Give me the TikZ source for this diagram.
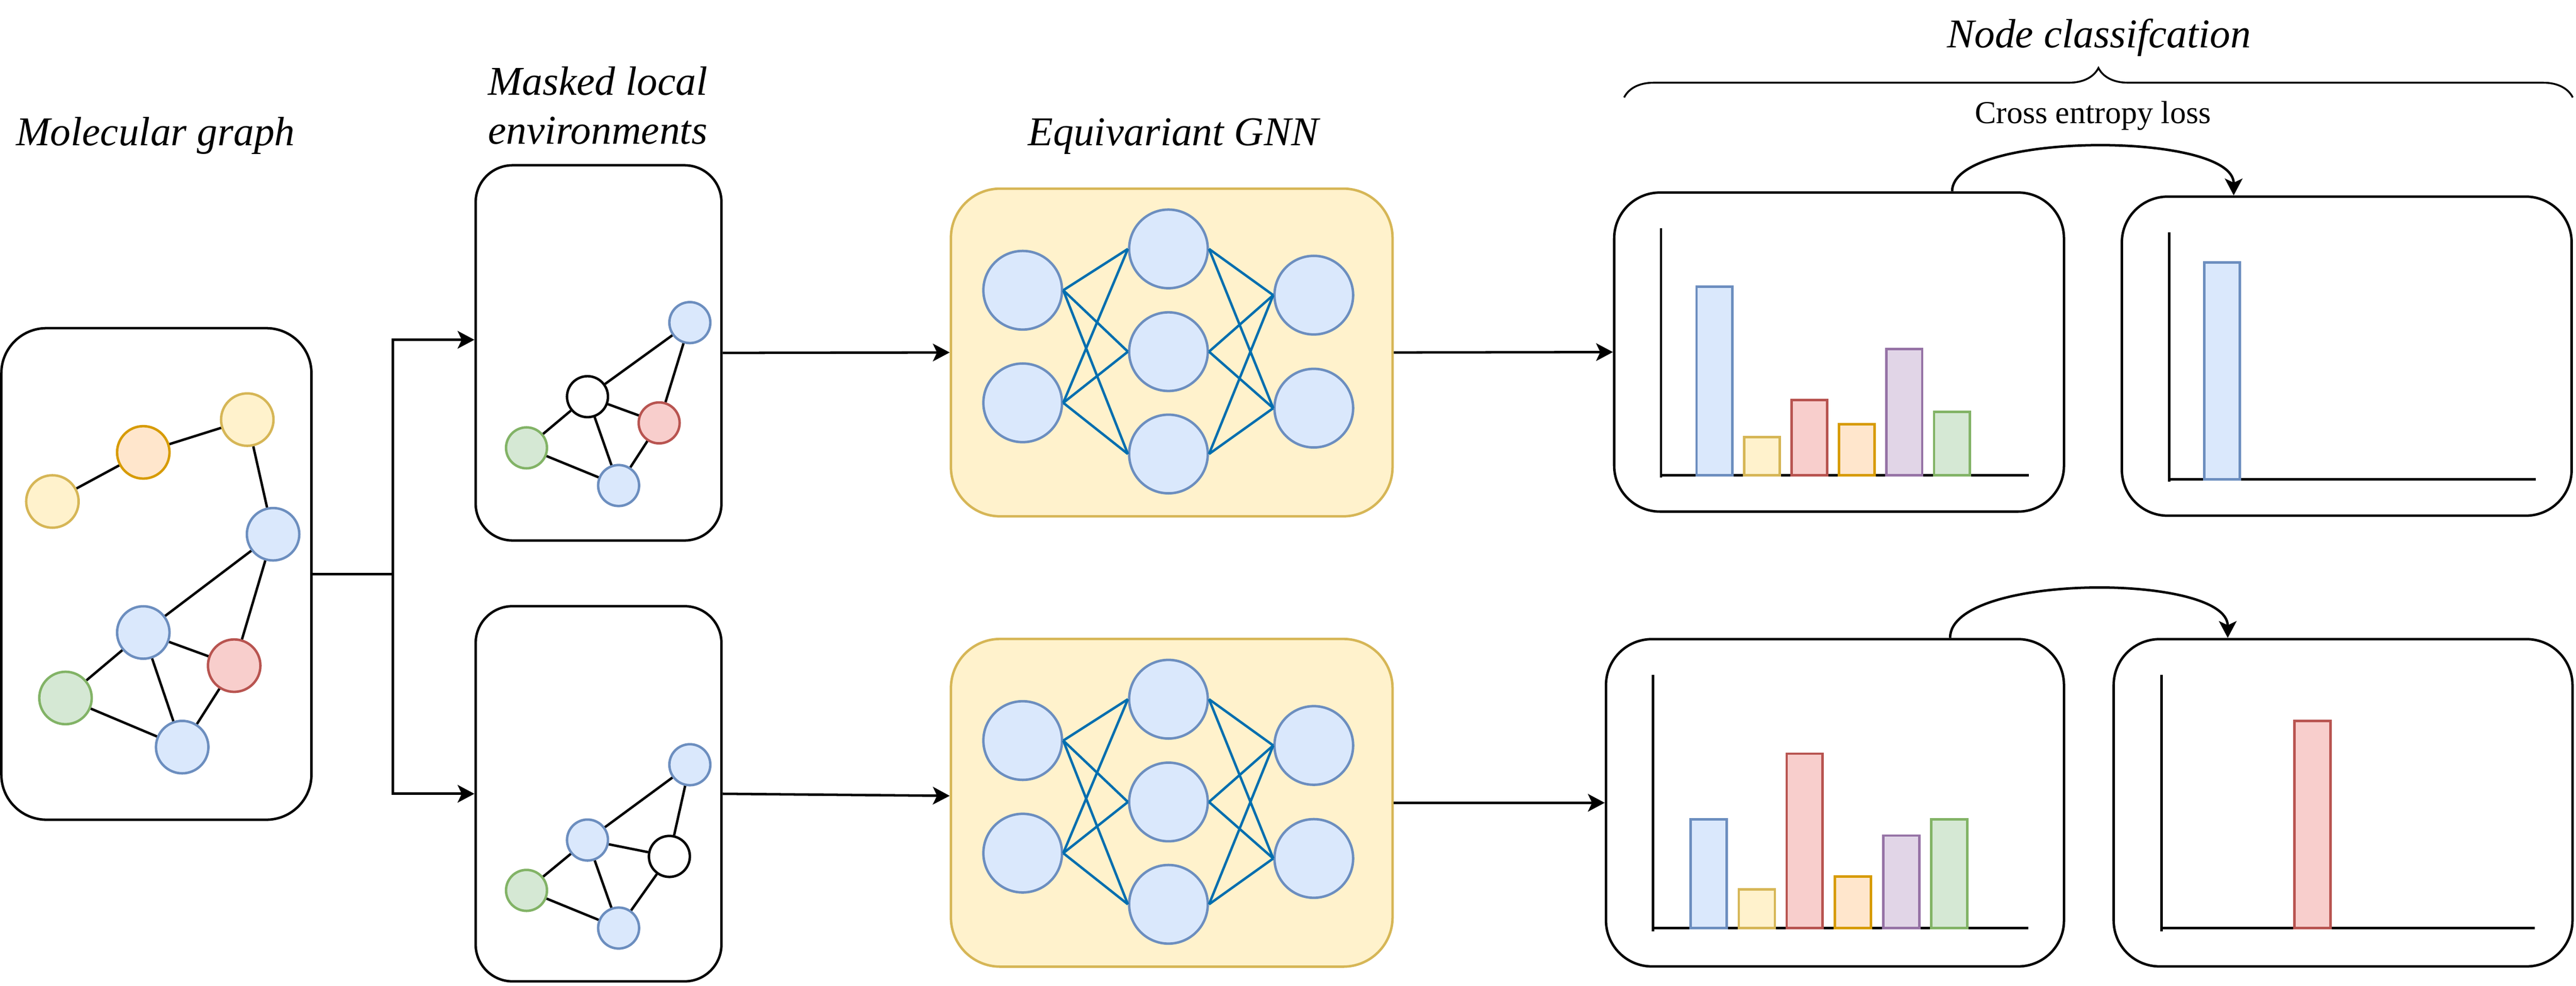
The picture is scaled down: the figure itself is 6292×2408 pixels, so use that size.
\documentclass[tikz,border=0pt]{standalone}
\usepackage{xcolor}
\usepackage{fontspec}
\setmainfont{Liberation Serif}
\usepackage{tikz}
\usetikzlibrary{arrows.meta, positioning, calc, decorations.pathreplacing}

\definecolor{bluefill}{HTML}{DAE8FC}
\definecolor{blueline}{HTML}{6C8EBF}
\definecolor{yellowfill}{HTML}{FFF2CC}
\definecolor{yellowline}{HTML}{D6B656}
\definecolor{orangefill}{HTML}{FFE6CC}
\definecolor{orangeline}{HTML}{D79B00}
\definecolor{redfill}{HTML}{F8CECC}
\definecolor{redline}{HTML}{B85450}
\definecolor{greenfill}{HTML}{D5E8D4}
\definecolor{greenline}{HTML}{82B366}
\definecolor{purplefill}{HTML}{E1D5E7}
\definecolor{purpleline}{HTML}{9673A6}
\definecolor{wirecolor}{HTML}{006EAF}

\begin{document}
\begin{tikzpicture}[x=0.01cm,y=-0.01cm,>={Stealth[length=0.41cm,width=0.43cm,inset=0.1cm]},
			line width=0.06cm,
			atom node/.style={circle,draw,minimum size=1.28cm,inner sep=0pt},
			local node/.style={circle,draw,minimum size=1cm,inner sep=0pt},
			neuron node/.style={circle,draw=blueline,fill=bluefill,minimum size=1.92cm,inner sep=0pt},
			box node/.style={draw,rounded corners=0.9cm,inner sep=0pt},
			gnn node/.style={draw=yellowline,fill=yellowfill,rounded corners=1.2cm,minimum width=10.78cm,minimum height=8cm,inner sep=0pt},
			hist node/.style={draw,rounded corners=1.12cm,inner sep=0pt},
			title node/.style={font=\fontsize{1cm}{1.2cm}\selectfont\itshape,align=center,inner sep=0pt},
			blue shade/.style={fill=bluefill,draw=blueline},
			yellow shade/.style={fill=yellowfill,draw=yellowline},
			orange shade/.style={fill=orangefill,draw=orangeline},
			red shade/.style={fill=redfill,draw=redline},
			green shade/.style={fill=greenfill,draw=greenline},
			purple shade/.style={fill=purplefill,draw=purpleline}]
			
			\useasboundingbox (0,0) rectangle (6292,2408);
			
			% titles
			\node[title node,anchor=base] (tmol) at (380,355) {Molecular graph};
			\node[title node,anchor=south] (tmask) at (1460,356) {Masked local\\environments};
			\node[title node,anchor=base] (tgnn) at (2866,355) {Equivariant GNN};
			\node[title node,anchor=base] (tcls) at (5127,116) {Node classifcation};
			\coordinate (braceL) at (3967,238);
			\coordinate (braceR) at (6284,238);
			\draw[decorate,decoration={brace,amplitude=0.72cm},line width=0.045cm] (braceL) -- (braceR);
			
			% molecular graph
			\node[box node,rounded corners=1.1cm,minimum width=7.57cm,minimum height=12cm] (mol) at (382,1402) {};
			\node[atom node,yellow shade] (g0) at (128,1225) {};
			\node[atom node,orange shade] (g1) at (350,1105) {};
			\node[atom node,yellow shade] (g2) at (604,1025) {};
			\node[atom node,blue shade] (g3) at (667,1305) {};
			\node[atom node,blue shade] (g4) at (350,1545) {};
			\node[atom node,red shade] (g5) at (572,1626) {};
			\node[atom node,green shade] (g6) at (160,1705) {};
			\node[atom node,blue shade] (g7) at (445,1825) {};
			\path (g0) edge (g1) (g1) edge (g2) (g2) edge (g3) (g3) edge (g4)
			(g3) edge (g5) (g4) edge (g5) (g4) edge (g6) (g4) edge (g7)
			(g6) edge (g7) (g5) edge (g7);
			
			% masked local environments
			\node[box node,minimum width=6cm,minimum height=9.16cm] (maskA) at (1462,862) {};
			\node[local node,blue shade] (a0) at (1685,788) {};
			\node[local node,fill=white] (a1) at (1435,969) {};
			\node[local node,red shade] (a2) at (1610,1033) {};
			\node[local node,green shade] (a3) at (1286,1094) {};
			\node[local node,blue shade] (a4) at (1511,1186) {};
			\path (a1) edge (a0) (a0) edge (a2) (a1) edge (a2) (a1) edge (a3)
			(a1) edge (a4) (a3) edge (a4) (a2) edge (a4);
			
			\node[box node,minimum width=6cm,minimum height=9.16cm] (maskB) at (1462,1939) {};
			\node[local node,blue shade] (b0) at (1685,1868) {};
			\node[local node,blue shade] (b1) at (1435,2052) {};
			\node[local node,fill=white] (b2) at (1635,2092) {};
			\node[local node,green shade] (b3) at (1286,2175) {};
			\node[local node,blue shade] (b4) at (1511,2267) {};
			\path (b1) edge (b0) (b0) edge (b2) (b1) edge (b2) (b1) edge (b3)
			(b1) edge (b4) (b3) edge (b4) (b2) edge (b4);
			
			% equivariant GNN
			\node[gnn node] (gnnA) at (2862,861) {};
			\node[neuron node] (t1) at (2498,709) {};
			\node[neuron node] (t2) at (2498,984) {};
			\node[neuron node] (t3) at (2854,608) {};
			\node[neuron node] (t4) at (2854,859) {};
			\node[neuron node] (t5) at (2854,1109) {};
			\node[neuron node] (t6) at (3209,721) {};
			\node[neuron node] (t7) at (3209,997) {};
			\path[every edge/.style={draw=wirecolor}]
			(t1.east) edge (t3.west) edge (t4.west) edge (t5.west)
			(t2.east) edge (t3.west) edge (t4.west) edge (t5.west)
			(t3.east) edge (t6.west) edge (t7.west)
			(t4.east) edge (t6.west) edge (t7.west)
			(t5.east) edge (t6.west) edge (t7.west);
			
			\node[gnn node] (gnnB) at (2862,1961) {};
			\node[neuron node] (s1) at (2498,1809) {};
			\node[neuron node] (s2) at (2498,2084) {};
			\node[neuron node] (s3) at (2854,1708) {};
			\node[neuron node] (s4) at (2854,1959) {};
			\node[neuron node] (s5) at (2854,2209) {};
			\node[neuron node] (s6) at (3209,1821) {};
			\node[neuron node] (s7) at (3209,2097) {};
			\path[every edge/.style={draw=wirecolor}]
			(s1.east) edge (s3.west) edge (s4.west) edge (s5.west)
			(s2.east) edge (s3.west) edge (s4.west) edge (s5.west)
			(s3.east) edge (s6.west) edge (s7.west)
			(s4.east) edge (s6.west) edge (s7.west)
			(s5.east) edge (s6.west) edge (s7.west);
			
			% node classification
			\node[hist node,minimum width=10.98cm,minimum height=7.79cm] (histA) at (4492,860) {};
			\node[hist node,minimum width=10.98cm,minimum height=7.79cm] (targetA) at (5732,870) {};
			\node[hist node,minimum width=11.18cm,minimum height=7.99cm] (histB) at (4482,1961) {};
			\node[hist node,minimum width=11.2cm,minimum height=7.99cm] (targetB) at (5723,1961) {};
			
			\draw (4057,557) -- (4057,1167) (4057,1161) -- (4956,1161);
			\draw[blue shade] (4144,1161) rectangle (4231,700);
			\draw[yellow shade] (4260,1161) rectangle (4347,1068);
			\draw[red shade] (4376,1161) rectangle (4463,977);
			\draw[orange shade] (4492,1161) rectangle (4579,1036);
			\draw[purple shade] (4608,1161) rectangle (4695,853);
			\draw[green shade] (4724,1161) rectangle (4811,1006);
			
			\draw (5298,567) -- (5298,1177) (5298,1171) -- (6194,1171);
			\draw[blue shade] (5384,1171) rectangle (5471,641);
			
			\draw (4038,1648) -- (4038,2275) (4038,2267) -- (4954,2267);
			\draw[blue shade] (4129,2267) rectangle (4217,2001);
			\draw[yellow shade] (4247,2267) rectangle (4335,2173);
			\draw[red shade] (4364,2267) rectangle (4452,1841);
			\draw[orange shade] (4482,2267) rectangle (4570,2141);
			\draw[purple shade] (4600,2267) rectangle (4688,2041);
			\draw[green shade] (4717,2267) rectangle (4805,2001);
			
			\draw (5280,1648) -- (5280,2275) (5280,2267) -- (6191,2267);
			\draw[red shade] (5604,2267) rectangle (5692,1761);
			
			% connectors
			\coordinate (split) at (960,1402);
			\draw (mol.east) -- (split);
			\draw[->] (split) |- ($(maskA.west)+(0,-32)$);
			\draw[->] (split) |- (maskB.west);
			\draw[->] (maskA.east) -- (gnnA.west);
			\draw[->] (maskB.east) -- ($(gnnB.west)+(0,-17)$);
			\draw[->] (gnnA.east) -- (histA.west);
			\draw[->] (gnnB.east) -- (histB.west);
			\draw[->] ($(histA.north west)!0.75!(histA.north east)$) .. controls +(0,-147) and +(0,-157) .. ($(targetA.north west)!0.25!(targetA.north east)$)
			node[midway,above=0.37cm,inner sep=0pt,font=\fontsize{0.78cm}{0.94cm}\selectfont] {Cross entropy loss};
			\draw[->] ($(histB.north west)!0.75!(histB.north east)$) .. controls +(0,-159) and +(0,-159) .. ($(targetB.north west)!0.25!(targetB.north east)$);
		\end{tikzpicture}
\end{document}
